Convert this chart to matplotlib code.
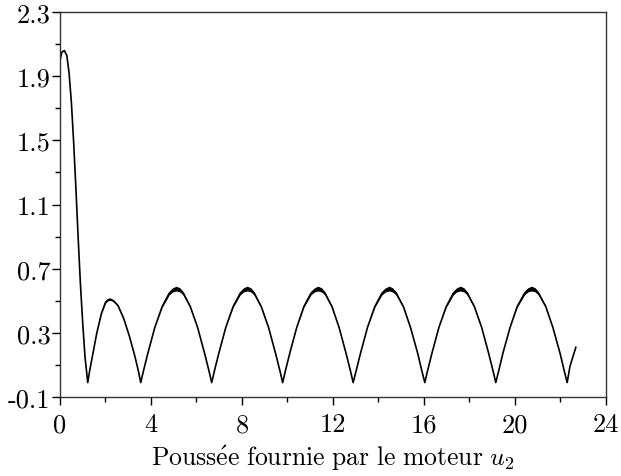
import numpy as np
import matplotlib
matplotlib.use("Agg")
import matplotlib.pyplot as plt
from matplotlib.ticker import MultipleLocator

# thrust curve: initial peak, then arches
x_start = [0.0, 0.08, 0.19, 0.30, 0.40, 0.50, 0.60, 0.70, 0.80, 0.90, 1.00, 1.10]
y_start = [2.00, 2.05, 2.06, 2.03, 1.92, 1.74, 1.49, 1.20, 0.89, 0.60, 0.36, 0.15]

x_arch1 = [1.22, 1.30, 1.42, 1.62, 1.82, 2.00, 2.10, 2.20, 2.35, 2.55, 2.80, 3.05, 3.30, 3.45]
y_arch1 = [-0.01, 0.06, 0.15, 0.30, 0.42, 0.49, 0.505, 0.51, 0.50, 0.47, 0.39, 0.28, 0.15, 0.06]
s_arch1 = [0, 0, 0, 0, 0.002, 0.005, 0.006, 0.007, 0.006, 0.005, 0.002, 0, 0, 0]

x_arch2 = [3.55, 3.67, 3.86, 4.17, 4.49, 4.80, 4.95, 5.11, 5.27, 5.42, 5.73, 6.05, 6.36, 6.55]
x_arch3 = [6.67, 6.79, 6.98, 7.29, 7.61, 7.92, 8.07, 8.23, 8.39, 8.54, 8.85, 9.17, 9.48, 9.67]
x_arch4 = [9.79, 9.91, 10.10, 10.41, 10.72, 11.03, 11.19, 11.34, 11.50, 11.65, 11.96, 12.27, 12.58, 12.77]
x_arch5 = [12.89, 13.02, 13.21, 13.52, 13.84, 14.15, 14.31, 14.47, 14.62, 14.78, 15.10, 15.41, 15.73, 15.91]
x_arch6 = [16.04, 16.16, 16.35, 16.66, 16.98, 17.29, 17.44, 17.60, 17.76, 17.91, 18.22, 18.54, 18.85, 19.04]
x_arch7 = [19.16, 19.29, 19.47, 19.79, 20.10, 20.42, 20.57, 20.73, 20.89, 21.04, 21.36, 21.67, 21.99, 22.17]
y_arch = [-0.01, 0.063, 0.171, 0.334, 0.463, 0.546, 0.568, 0.576, 0.568, 0.546, 0.463, 0.334, 0.171, 0.063]
s_arch = [0, 0, 0, 0, 0.004, 0.010, 0.013, 0.015, 0.013, 0.010, 0.004, 0, 0, 0]

x_end = [22.30, 22.42, 22.55, 22.68]
y_end = [-0.01, 0.09, 0.15, 0.21]

x = np.array(x_start + x_arch1 + x_arch2 + x_arch3 + x_arch4 + x_arch5 + x_arch6 + x_arch7 + x_end)
y = np.array(y_start + y_arch1 + y_arch * 6 + y_end)
spread = np.array([0] * len(x_start) + s_arch1 + s_arch * 6 + [0] * len(x_end))

xticks = [0, 4, 8, 12, 16, 20, 24]
yticks = [-0.1, 0.3, 0.7, 1.1, 1.5, 1.9, 2.3]
ylabels = ["-0.1", "0.3", "0.7", "1.1", "1.5", "1.9", "2.3"]

plt.rcParams["mathtext.fontset"] = "cm"
plt.rcParams["font.family"] = ["cmr10", "DejaVu Serif"]
plt.rcParams["axes.unicode_minus"] = False

fig = plt.figure(figsize=(6.21, 4.77), dpi=100)
ax = fig.add_axes([0.0966, 0.1656, 0.879, 0.807])

ax.fill_between(x, y - spread, y + spread, color="black", lw=0)
ax.plot(x, y, color="black", lw=1.2)

ax.set_xlim(0, 24)
ax.set_ylim(-0.1, 2.3)
ax.set_xticks(xticks)
ax.set_xticklabels([str(t) for t in xticks])
ax.set_yticks(yticks)
ax.set_yticklabels(ylabels)
ax.xaxis.set_minor_locator(MultipleLocator(2))
ax.yaxis.set_minor_locator(plt.FixedLocator([0.1, 0.5, 0.9, 1.3, 1.7, 2.1]))

ax.tick_params(which="major", direction="out", length=6, width=1, labelsize=19, pad=1)
ax.tick_params(axis="x", which="major", pad=5)
ax.tick_params(which="minor", direction="out", length=3.5, width=1)
ax.tick_params(top=False, right=False)
for sp in ax.spines.values():
    sp.set_linewidth(1)
    sp.set_color("#333333")

ax.set_xlabel(r"$\mathrm{Pouss\acute{e}e\ fournie\ par\ le\ moteur}\ u_2$", fontsize=18.5, labelpad=5)

fig.savefig("out.png", dpi=100)
